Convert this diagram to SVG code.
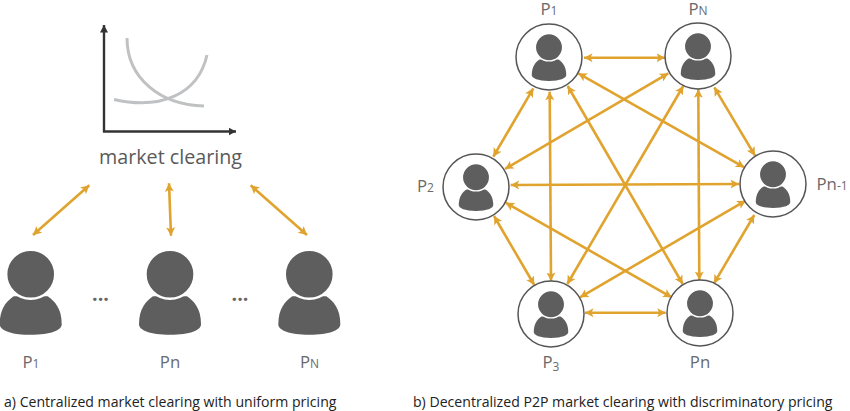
<svg xmlns="http://www.w3.org/2000/svg" width="850" height="411" viewBox="0 0 850 411">
<style>
text{font-family:"Open Sans","Noto Sans","Liberation Sans",sans-serif}
.l{font-size:16.8px;fill:#6a6a6a;text-anchor:middle}
.m{font-size:19.7px;fill:#5a5a5a;text-anchor:middle}
.d{font-size:19.7px;fill:#666;text-anchor:middle;font-weight:700}
.s{font-size:12px}
.c{font-size:14.1px;fill:#222}
.r{fill:#fff;stroke:#555;stroke-width:1.5}
.e{stroke:#e0a32e;stroke-width:2.6;fill:none;marker-start:url(#h);marker-end:url(#h)}
.a{stroke:#333;stroke-width:2.4;fill:none}
.k{stroke:#bfc1c3;stroke-width:3;fill:none}
.p{fill:#5e5e5e}
</style>
<defs>
<marker id="h" markerUnits="userSpaceOnUse" markerWidth="11" markerHeight="11" refX="8.500" refY="5" orient="auto-start-reverse"><path d="M0,0.500L8.500,5L0,9.500L2,5Z" fill="#e0a32e"/></marker>
<marker id="b" markerUnits="userSpaceOnUse" markerWidth="9" markerHeight="9" refX="7.500" refY="4.500" orient="auto"><path d="M0,0.500L7.500,4.500L0,8.500Z" fill="#333"/></marker>
<g id="person">
<path class="p" d="M-17,22C-24,27-31,34-31,50C-31,56-20,60.500 0,60.500C20,60.500 31,56 31,50C31,34 24,27 17,22Z"/>
<circle class="p" r="24.500" stroke="#fff" stroke-width="2.400"/>
</g>
</defs>
<g id="chart">
<path class="k" d="M127,38C127,78 160,105 204,106"/>
<path class="k" d="M114,99.500C160,110 198,95 207,55"/>
<path class="a" marker-end="url(#b)" d="M104,132V25"/>
<path class="a" marker-end="url(#b)" d="M103,131.500H236"/>
<text class="m" x="170.500" y="163.500">market clearing</text>
</g>
<g id="connectors">
<path class="e" d="M89.300,185.300L33,235"/>
<path class="e" d="M169,183.300L171,235.700"/>
<path class="e" d="M250.700,185.300L307,235"/>
<path class="e" d="M584,57.700H665"/>
<path class="e" d="M533.300,88.300L493.300,156.700"/>
<path class="e" d="M578.300,73.300L744.300,167.300"/>
<path class="e" d="M505,169L668.300,73.300"/>
<path class="e" d="M549.700,91.700L551,281"/>
<path class="e" d="M567.700,86L682.700,284"/>
<path class="e" d="M683.300,86L567.300,284"/>
<path class="e" d="M698.300,89.300L699.300,280"/>
<path class="e" d="M714.300,87.300L755,155.700"/>
<path class="e" d="M510.700,185L739,184"/>
<path class="e" d="M505.700,202.700L671.700,297.300"/>
<path class="e" d="M494,216L534.300,285"/>
<path class="e" d="M745.700,200.700L580,297.300"/>
<path class="e" d="M754.300,215L714,283.300"/>
<path class="e" d="M585,312.700H665.700"/>
</g>
<g id="a-p1"><use href="#person" transform="translate(30.700,274.300)"/><text class="l" x="31" y="367.700">P<tspan class="s">1</tspan></text></g>
<g id="a-pn"><use href="#person" transform="translate(170,274.300)"/><text class="l" x="170" y="367.700">Pn</text></g>
<g id="a-pN"><use href="#person" transform="translate(309.300,274.300)"/><text class="l" x="309.500" y="367.700">P<tspan class="s">N</tspan></text></g>
<g id="dots"><text class="d" x="100.500" y="301">...</text><text class="d" x="240" y="301">...</text></g>
<g id="b-p1"><circle class="r" cx="549" cy="57" r="33"/><use href="#person" transform="translate(549,47.300) scale(.556)"/><text class="l" x="549" y="15">P<tspan class="s">1</tspan></text></g>
<g id="b-pN"><circle class="r" cx="698" cy="56" r="33"/><use href="#person" transform="translate(698,46.300) scale(.556)"/><text class="l" x="698" y="15">P<tspan class="s">N</tspan></text></g>
<g id="b-p2"><circle class="r" cx="476" cy="187" r="33"/><use href="#person" transform="translate(476,177.300) scale(.556)"/><text class="l" x="425.500" y="191.700">P<tspan class="s">2</tspan></text></g>
<g id="b-pn1"><circle class="r" cx="773" cy="184" r="33"/><use href="#person" transform="translate(773,174.300) scale(.556)"/><text class="l" x="816.500" y="190" style="text-anchor:start">Pn<tspan class="s">-1</tspan></text></g>
<g id="b-p3"><circle class="r" cx="551" cy="314" r="33"/><use href="#person" transform="translate(551,304.300) scale(.556)"/><text class="l" x="551" y="368">P<tspan class="s" dy="3">3</tspan></text></g>
<g id="b-pn"><circle class="r" cx="700" cy="313" r="33"/><use href="#person" transform="translate(700,303.300) scale(.556)"/><text class="l" x="700" y="368">Pn</text></g>
<text id="cap-a" class="c" x="4" y="406.700">a) Centralized market clearing with uniform pricing</text>
<text id="cap-b" class="c" x="413" y="406.700">b) Decentralized P2P market clearing with discriminatory pricing</text>
</svg>
